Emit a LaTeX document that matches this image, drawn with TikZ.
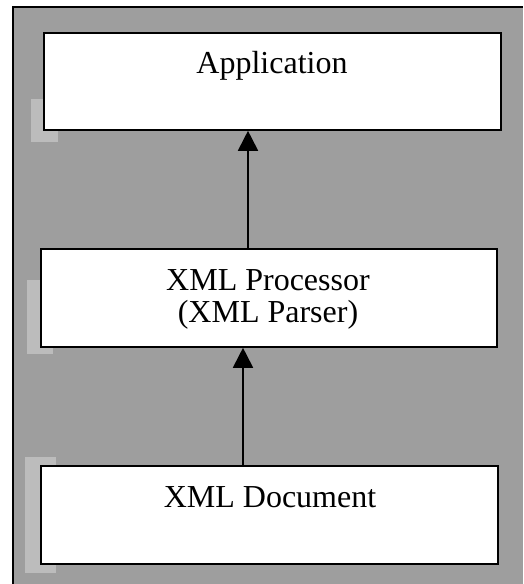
\documentclass[tikz,border=0pt]{standalone}
\usepackage{fontspec}
\setmainfont{Liberation Serif}
\usetikzlibrary{arrows.meta}
\definecolor{bggray}{RGB}{158,158,158}
\definecolor{patchgray}{RGB}{188,188,188}
\begin{document}
\begin{tikzpicture}[x=1pt,y=-1pt,
  box/.style={draw=black,line width=1.8pt,fill=white,rectangle,inner sep=0pt,anchor=north west},
  lbl/.style={font=\fontsize{32}{32}\selectfont,inner sep=0pt,anchor=base},
  arr/.style={line width=1.8pt,-{Triangle[length=20pt,width=20pt]}},
  patch/.style={fill=patchgray}]
\useasboundingbox (0,0) rectangle (523,584);
\fill[white] (0,0) rectangle (523,584);
\fill[bggray] (13,7) rectangle (523,584);
\draw[line width=1.8pt] (13,584) -- (13,7) -- (523,7);
% small scan patches at the left of each box
\fill[patch] (31,99) rectangle (58,142);
\fill[patch] (27,280) rectangle (53,354);
\fill[patch] (25,457) rectangle (56,573);
% boxes
\node[box, minimum width=457pt, minimum height=97pt] (app) at (43,32) {};
\node[box, minimum width=456pt, minimum height=98pt] (proc) at (40,248) {};
\node[box, minimum width=457pt, minimum height=98pt] (doc) at (40,465) {};
% labels
\node[lbl] (apptxt) at (272,73) {Application};
\node[lbl] (proctxta) at (268,290) {XML Processor};
\node[lbl] (proctxtb) at (268,322) {(XML Parser)};
\node[lbl] (doctxt) at (270,507) {XML Document};
% connectors
\coordinate (a1) at (248,0);
\coordinate (a2) at (243,0);
\draw[arr] (proc.north -| a1) -- (app.south -| a1);
\draw[arr] (doc.north -| a2) -- (proc.south -| a2);
\end{tikzpicture}
\end{document}
